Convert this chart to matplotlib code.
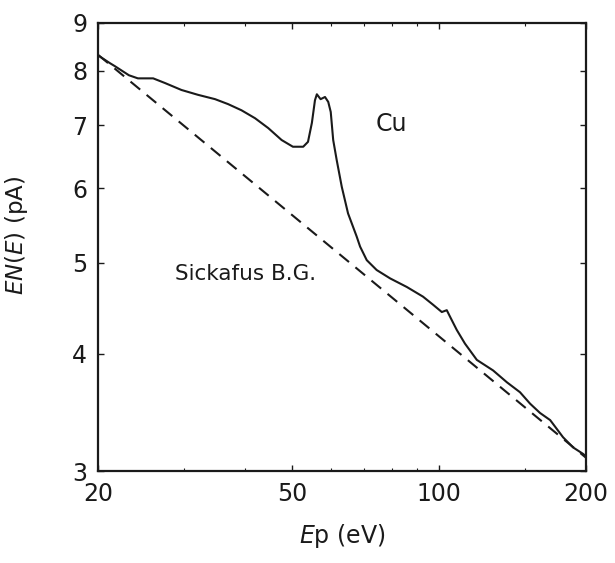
import matplotlib
matplotlib.use("Agg")
import matplotlib.pyplot as plt
from matplotlib.ticker import FixedLocator, NullFormatter

plt.rcParams["font.family"] = ["DejaVu Sans"]
plt.rcParams["mathtext.fontset"] = "dejavusans"

# Cu spectrum, EN(E) vs primary energy
ep = [20.0, 21.1, 21.6, 23.1, 24.1, 25.9, 27.4, 29.6, 32.0, 34.7, 36.9, 39.3,
      41.9, 44.6, 47.5, 50.1, 52.6, 53.8, 54.8, 55.6, 56.1, 57.1, 58.3, 59.2,
      59.9, 60.6, 61.6, 63.1, 65.0, 67.7, 68.8, 71.0, 74.4, 79.3, 85.8, 92.6,
      97.1, 101.2, 103.6, 105.2, 108.6, 112.9, 119.4, 128.9, 137.6, 146.4,
      153.5, 160.9, 168.8, 179.4, 188.1, 197.2, 200.0]
en = [8.30, 8.15, 8.09, 7.91, 7.85, 7.85, 7.76, 7.63, 7.54, 7.46, 7.37, 7.26,
      7.12, 6.95, 6.75, 6.64, 6.64, 6.72, 7.04, 7.44, 7.55, 7.46, 7.50, 7.41,
      7.23, 6.75, 6.43, 6.02, 5.64, 5.33, 5.20, 5.03, 4.91, 4.81, 4.71, 4.60,
      4.51, 4.43, 4.45, 4.38, 4.24, 4.10, 3.94, 3.84, 3.73, 3.64, 3.54, 3.46,
      3.40, 3.26, 3.18, 3.13, 3.11]

# Sickafus background (straight line on log-log)
bg_ep = [20.0, 200.0]
bg_en = [8.31, 3.10]

xticks = [20, 50, 100, 200]
xminor = [30, 40, 60, 70, 80, 90, 150]
yticks = [3, 4, 5, 6, 7, 8, 9]

ink = "#1a1a1a"

fig = plt.figure(figsize=(6.15, 5.63), dpi=100)
ax = fig.add_axes([0.160, 0.163, 0.793, 0.797])

ax.plot(ep, en, color=ink, lw=1.5)
ax.plot(bg_ep, bg_en, color=ink, lw=1.5, ls=(0, (6, 4)))

ax.set_xscale("log")
ax.set_yscale("log")
ax.set_xlim(20, 200)
ax.set_ylim(3, 9)

ax.xaxis.set_major_locator(FixedLocator(xticks))
ax.xaxis.set_minor_locator(FixedLocator(xminor))
ax.set_xticklabels([str(t) for t in xticks])
ax.xaxis.set_minor_formatter(NullFormatter())
ax.yaxis.set_major_locator(FixedLocator(yticks))
ax.set_yticklabels([str(t) for t in yticks])
ax.yaxis.set_minor_locator(FixedLocator([]))
ax.yaxis.set_minor_formatter(NullFormatter())

ax.tick_params(which="both", direction="in", top=True, right=True,
               labelsize=17, colors=ink, pad=8)
ax.tick_params(which="major", length=4, width=1)
ax.tick_params(which="minor", length=2, width=0.8)
for s in ax.spines.values():
    s.set_linewidth(1.6)
    s.set_color(ink)

ax.set_xlabel(r"$E$p (eV)", fontsize=17, labelpad=11, color=ink)
ax.set_ylabel(r"$EN$($E$) (pA)", fontsize=16.5, color=ink)
ax.yaxis.set_label_coords(-0.14, 0.526)

ax.text(74, 6.9, "Cu", fontsize=17, color=ink)
ax.text(28.7, 4.79, "Sickafus B.G.", fontsize=15.5, color=ink)

fig.savefig("out.png", dpi=100)
